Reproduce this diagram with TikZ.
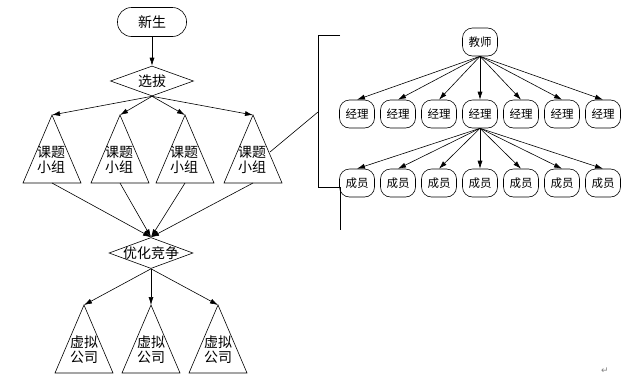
\documentclass[tikz,border=0pt]{standalone}
\usepackage{fontspec}
\setmainfont{Noto Sans CJK SC}
\newfontfamily\symfont{DejaVu Sans}
\usetikzlibrary{shapes.geometric,arrows.meta}
\begin{document}
\begin{tikzpicture}[x=1pt,y=-1pt,line width=0.6pt,
  arr/.style={-{Latex[length=8pt,width=5pt]}},
  pill/.style={draw,rounded corners=14pt,minimum width=69pt,minimum height=29pt,inner sep=0pt,font=\fontsize{14}{16}\selectfont},
  dia/.style={draw,diamond,aspect=2.7,inner sep=0pt,minimum width=83pt,minimum height=30pt,font=\fontsize{14}{16}\selectfont},
  rbox/.style={draw,rounded corners=10pt,minimum width=35pt,minimum height=28pt,inner sep=0pt,font=\fontsize{11.5}{13}\selectfont},
  tri/.style={draw},
  ttext/.style={align=center,inner sep=0pt,font=\fontsize{14}{15}\selectfont}]
\useasboundingbox (0,0) rectangle (636,378);
% left column
\node[pill] (xs) at (152,22) {新生};
\node[dia] (xb) at (152,81) {\makebox[0pt]{选拔}};
\draw[arr] (xs.south) -- (xb.north);
% top triangles
\foreach \i/\x in {1/52,2/120,3/185,4/253}{
  \coordinate (k\i) at (\x,115);
  \coordinate (k\i b) at (\x,183);
  \draw[tri] (k\i) -- ++(29,68) -- ++(-58,0) -- cycle;
  \node[ttext] (k\i t) at (\x-1,160) {课题\\小组};
  \draw[arr] (xb.south) -- (k\i);
}
\node[dia,minimum width=84pt,minimum height=31pt] (yh) at (151,253) {\makebox[0pt]{优化竞争}};
\foreach \i in {1,2,3,4}{
  \draw[arr] (k\i b) -- (yh.north);
}
% bottom triangles
\foreach \i/\x in {1/84,2/151,3/218}{
  \coordinate (v\i) at (\x,305);
  \draw[tri] (v\i) -- ++(29,68) -- ++(-58,0) -- cycle;
  \node[ttext] (v\i t) at (\x,350) {虚拟\\公司};
  \draw[arr] (yh.south) -- (v\i);
}
% bracket and link
\coordinate (br1) at (340,35);
\coordinate (br2) at (318,35);
\coordinate (br3) at (318,187);
\coordinate (br4) at (340,187);
\coordinate (br5) at (340,230);
\draw (br1) -- (br2) -- (br3) -- (br4) -- (br5);
\coordinate (k4e) at (270,152);
\coordinate (brm) at (318,112);
\draw (k4e) -- (brm);
% right tree
\node[rbox] (js) at (480,42) {教师};
\foreach \i/\x in {1/357,2/398,3/439,4/480,5/521,6/562,7/603}{
  \node[rbox] (jl\i) at (\x,114) {经理};
  \draw[arr] (js.south) -- (jl\i.north);
  \node[rbox] (cy\i) at (\x,183) {成员};
}
\foreach \i in {1,...,7}{
  \draw[arr] (jl4.south) -- (cy\i.north);
}
\node[text=gray,font=\symfont\fontsize{9}{10}\selectfont,inner sep=0pt] (pm) at (605,371) {↵};
\end{tikzpicture}
\end{document}
